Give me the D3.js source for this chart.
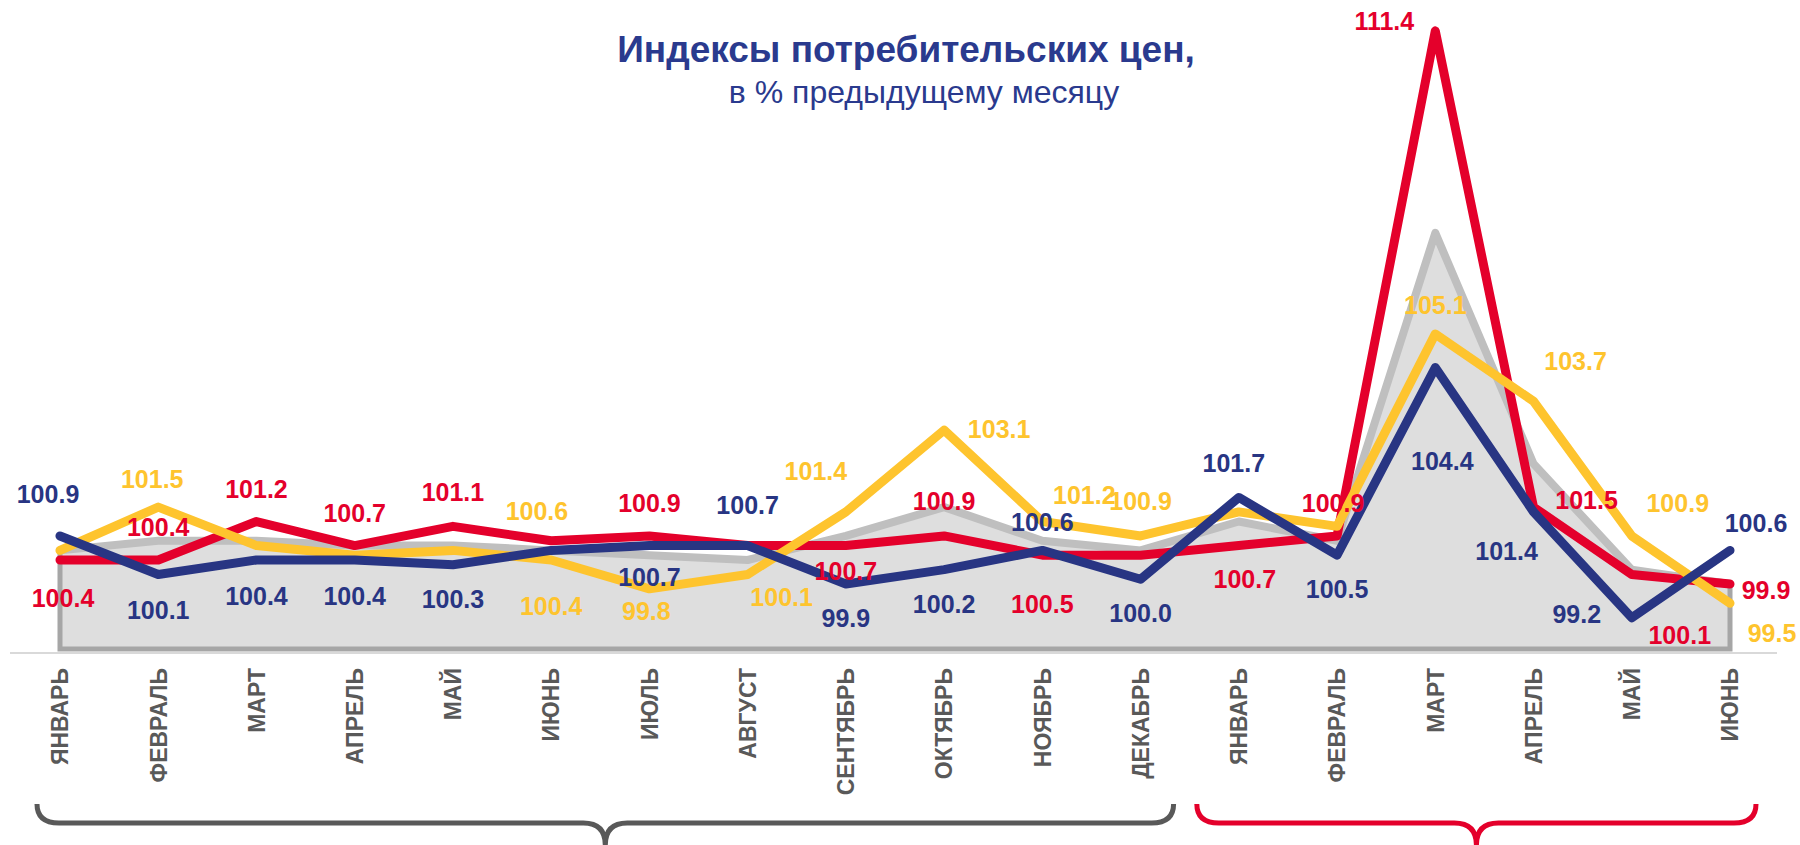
<!DOCTYPE html>
<html>
<head>
<meta charset="utf-8">
<script src="https://cdn.jsdelivr.net/npm/d3@7"></script>
<style>
body{margin:0;background:#fff}
svg{display:block;font-family:"Liberation Sans",Arial,sans-serif}
</style>
</head>
<body>
<svg id="chart" width="1800" height="845"></svg>
<script>
// months, two periods: 12 + 6
var months = ["ЯНВАРЬ","ФЕВРАЛЬ","МАРТ","АПРЕЛЬ","МАЙ","ИЮНЬ","ИЮЛЬ","АВГУСТ","СЕНТЯБРЬ","ОКТЯБРЬ","НОЯБРЬ","ДЕКАБРЬ",
              "ЯНВАРЬ","ФЕВРАЛЬ","МАРТ","АПРЕЛЬ","МАЙ","ИЮНЬ"];

var blueValues   = [100.9,100.1,100.4,100.4,100.3,100.6,100.7,100.7,99.9,100.2,100.6,100.0,101.7,100.5,104.4,101.4,99.2,100.6];
var redValues    = [100.4,100.4,101.2,100.7,101.1,100.8,100.9,100.7,100.7,100.9,100.5,100.5,100.7,100.9,111.4,101.5,100.1,99.9];
var yellowValues = [100.6,101.5,100.7,100.5,100.6,100.4,99.8,100.1,101.4,103.1,101.2,100.9,101.4,101.1,105.1,103.7,100.9,99.5];
var greyValues   = [100.6,100.8,100.8,100.7,100.7,100.6,100.5,100.4,100.9,101.5,100.8,100.6,101.2,100.8,107.2,102.4,100.2,99.9];

var periods = [[0,11],[12,17]];

// label offsets from the point (null = no label)
var blueLabelPos = [[-12,-33],[0,45],[0,45],[0,45],[0,43],null,[0,40],[0,-32],[0,43],[0,43],[0,-19],[0,43],
                    [-5,-25],[0,43],[7,102],[-27,48],[-55,5],[26,-18]];
var redLabelPos = [[3,47],[0,-24],[0,-24],[0,-24],[0,-25],null,[0,-24],null,[0,34],[0,-26],[0,58],null,
                   [6,42],[-4,-24],[-51,-1],[53,2],[48,70],[36,15]];
var yellowLabelPos = [null,[-6,-19],null,null,[84,-30],[0,55],[-3,31],[34,32],[-30,-32],[55,8],[42,-18],[0,-26],
                      null,null,[0,-20],[42,-31],[46,-24],[42,39]];

var svg = d3.select("#chart");
var fmt = d3.format(".1f");

var x = d3.scalePoint()
    .domain(d3.range(months.length))
    .range([60, 1730]);

var y = d3.scaleLinear()
    .domain([98.55, 112])
    .range([649, 2]);

// title
svg.append("text")
    .attr("x", 906).attr("y", 62)
    .attr("text-anchor", "middle")
    .style("font-size", "37px").style("font-weight", "bold")
    .attr("fill", "#2a3a8e")
    .text("Индексы потребительских цен,");
svg.append("text")
    .attr("x", 924).attr("y", 103)
    .attr("text-anchor", "middle")
    .style("font-size", "32px")
    .attr("fill", "#2a3a8e")
    .text("в % предыдущему месяцу");

// axis line
svg.append("line")
    .attr("x1", 10).attr("x2", 1777)
    .attr("y1", 653).attr("y2", 653)
    .attr("stroke", "#d9d9d9").attr("stroke-width", 2);

// grey area
var area = d3.area()
    .x(function(d, i){ return x(i); })
    .y0(y(98.55))
    .y1(function(d){ return y(d); });

svg.append("path")
    .datum(greyValues)
    .attr("d", area)
    .attr("fill", "#dedede");

// border of area (left, bottom, right)
var n = greyValues.length - 1;
svg.append("path")
    .attr("d", "M" + x(0) + "," + y(greyValues[0]) + "V" + y(98.55) + "H" + x(n) + "V" + y(greyValues[n]))
    .attr("fill", "none")
    .attr("stroke", "#a6a6a6")
    .attr("stroke-width", 5);

var line = d3.line()
    .x(function(d, i){ return x(i); })
    .y(function(d){ return y(d); });

var series = [
    {values: greyValues, color: "#bfbfbf", width: 8},
    {values: redValues, color: "#e4002b", width: 9},
    {values: yellowValues, color: "#fec42e", width: 9},
    {values: blueValues, color: "#283583", width: 9}
];

svg.selectAll(".serie")
    .data(series)
    .enter().append("path")
    .attr("class", "serie")
    .attr("d", function(s){ return line(s.values); })
    .attr("fill", "none")
    .attr("stroke", function(s){ return s.color; })
    .attr("stroke-width", function(s){ return s.width; })
    .attr("stroke-linejoin", "round")
    .attr("stroke-linecap", "round");

// month labels
svg.selectAll(".month")
    .data(months)
    .enter().append("text")
    .attr("class", "month")
    .attr("transform", function(d, i){ return "translate(" + x(i) + ",668) rotate(-90)"; })
    .attr("dy", "0.36em")
    .attr("text-anchor", "end")
    .style("font-size", "23px").style("font-weight", "bold")
    .attr("fill", "#595959")
    .text(function(d){ return d; });

// value labels
function drawLabels(values, pos, color){
    var pts = values.map(function(v, i){ return {v: v, i: i, p: pos[i]}; })
        .filter(function(d){ return d.p; });
    svg.selectAll(null)
        .data(pts)
        .enter().append("text")
        .attr("x", function(d){ return x(d.i) + d.p[0]; })
        .attr("y", function(d){ return y(d.v) + d.p[1]; })
        .attr("text-anchor", "middle")
        .style("font-size", "25px").style("font-weight", "bold")
        .attr("fill", color)
        .text(function(d){ return fmt(d.v); });
}
drawLabels(yellowValues, yellowLabelPos, "#fec42e");
drawLabels(redValues, redLabelPos, "#e4002b");
drawLabels(blueValues, blueLabelPos, "#283583");

// curly braces under the months
function brace(x1, x2, top, mid, bot, r){
    var c = (x1 + x2) / 2;
    return "M" + x1 + "," + top +
        "Q" + x1 + "," + mid + " " + (x1 + r) + "," + mid +
        "L" + (c - r) + "," + mid +
        "Q" + c + "," + mid + " " + c + "," + bot +
        "Q" + c + "," + mid + " " + (c + r) + "," + mid +
        "L" + (x2 - r) + "," + mid +
        "Q" + x2 + "," + mid + " " + x2 + "," + top;
}
var braceColors = ["#595959", "#e4002b"];
svg.selectAll(".brace")
    .data(periods)
    .enter().append("path")
    .attr("class", "brace")
    .attr("d", function(p){ return brace(x(p[0]) - (p[0] ? 42 : 23), x(p[1]) + (p[0] ? 26 : 33), 804, 823, 845, 22); })
    .attr("fill", "none")
    .attr("stroke", function(p, i){ return braceColors[i]; })
    .attr("stroke-width", 5);
</script>
</body>
</html>
